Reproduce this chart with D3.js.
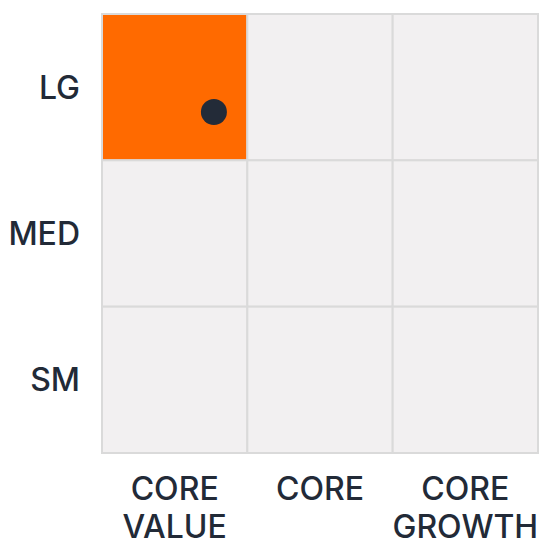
<!DOCTYPE html>
<html>
<head>
<meta charset="utf-8">
<script src="https://cdn.jsdelivr.net/npm/d3@7"></script>
<style>
html,body{margin:0;padding:0;background:#fff;}
svg{display:block;}
text{font-family:Inter,"Noto Sans",sans-serif;font-weight:500;fill:#222a37;}
</style>
</head>
<body>
<svg id="chart" width="539" height="540"></svg>
<script>
// Style box categories
const columns = ["CORE VALUE", "CORE", "CORE GROWTH"];
const rows = ["LG", "MED", "SM"];
// highlighted cell
const highlightRow = ["LG"];
const highlightCol = ["CORE VALUE"];
// dot position (style score 0-3 left→right, size score 0-3 bottom→top)
const dotStyle = [0.77];
const dotSize = [2.33];

const svg = d3.select("#chart");
const x0 = 102, x1 = 538, y0 = 14, y1 = 453;

const xBand = d3.scaleBand().domain(columns).range([x0, x1]);
const yBand = d3.scaleBand().domain(rows).range([y0, y1]);
const xLin = d3.scaleLinear().domain([0, 3]).range([x0, x1]);
const yLin = d3.scaleLinear().domain([0, 3]).range([y1, y0]);

const cells = [];
rows.forEach(r => columns.forEach(c => cells.push({r, c})));

svg.append("g").selectAll("rect").data(cells).join("rect")
  .attr("x", d => xBand(d.c))
  .attr("y", d => yBand(d.r))
  .attr("width", xBand.bandwidth())
  .attr("height", yBand.bandwidth())
  .attr("fill", d => (highlightRow.includes(d.r) && highlightCol.includes(d.c)) ? "#ff6a00" : "#f2f0f1")
  .attr("stroke", "#dadada")
  .attr("stroke-width", 2);

svg.append("g").selectAll("circle").data(dotStyle.map((s, i) => ({s, z: dotSize[i]}))).join("circle")
  .attr("cx", d => xLin(d.s))
  .attr("cy", d => yLin(d.z))
  .attr("r", 13)
  .attr("fill", "#232b38");

svg.append("g").selectAll("text").data(rows).join("text")
  .attr("x", 80)
  .attr("y", d => yBand(d) + yBand.bandwidth() / 2)
  .attr("dy", "0.36em")
  .attr("text-anchor", "end")
  .attr("font-size", 32)
  .text(d => d);

const xl = svg.append("g").selectAll("text").data(columns).join("text")
  .attr("x", d => xBand(d) + xBand.bandwidth() / 2)
  .attr("y", 500)
  .attr("text-anchor", "middle")
  .attr("font-size", 32);
xl.each(function(d) {
  const words = d.split(" ");
  const t = d3.select(this);
  words.forEach((w, i) => {
    t.append("tspan")
      .attr("x", xBand(d) + xBand.bandwidth() / 2)
      .attr("dy", i === 0 ? 0 : 38)
      .text(w);
  });
});
</script>
</body>
</html>
